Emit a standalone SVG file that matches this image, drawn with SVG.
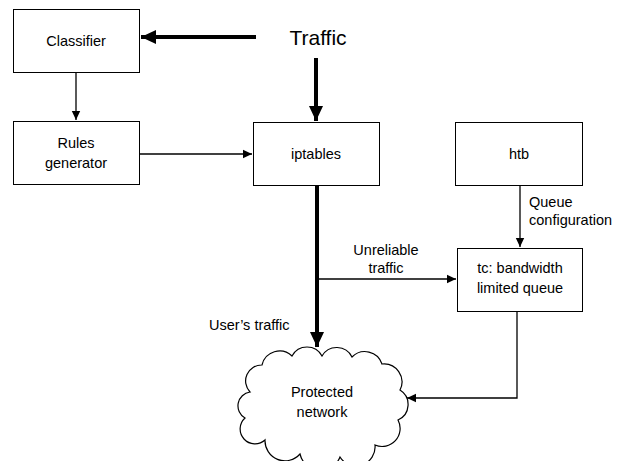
<svg xmlns="http://www.w3.org/2000/svg" width="632" height="461" viewBox="0 0 632 461">
<defs>
<style>
.box{fill:#fff;stroke:#000;stroke-width:1}
.t{font-family:"Liberation Sans",Arial,sans-serif;font-size:14.5px;fill:#000;text-anchor:middle}
.l{font-family:"Liberation Sans",Arial,sans-serif;font-size:14.5px;fill:#000}
.thin{stroke:#000;stroke-width:1.3;fill:none}
.thick{stroke:#000;stroke-width:4;fill:none}
</style>
<marker id="ah" markerUnits="userSpaceOnUse" markerWidth="10" markerHeight="10" refX="9" refY="5" orient="auto">
<path d="M0,0.8 L9,5 L0,9.2 Z" fill="#000"/>
</marker>
<marker id="ahb" markerUnits="userSpaceOnUse" markerWidth="16" markerHeight="16" refX="15" refY="8" orient="auto">
<path d="M0,1 L15,8 L0,15 Z" fill="#000"/>
</marker>
</defs>
<g id="connectors">
<line class="thick" x1="256" y1="37" x2="141" y2="37" marker-end="url(#ahb)"/>
<line class="thick" x1="316" y1="58" x2="316" y2="121" marker-end="url(#ahb)"/>
<line class="thin" x1="76" y1="73" x2="76" y2="120" marker-end="url(#ah)"/>
<line class="thin" x1="140" y1="154" x2="252" y2="154" marker-end="url(#ah)"/>
<line class="thick" x1="317" y1="185" x2="317" y2="347" marker-end="url(#ahb)"/>
<line class="thin" x1="317" y1="279" x2="456" y2="279" marker-end="url(#ah)"/>
<line class="thin" x1="520" y1="185" x2="520" y2="247" marker-end="url(#ah)"/>
<polyline class="thin" points="517,311 517,398 407,398" marker-end="url(#ah)"/>
</g>
<g id="traffic"><text class="t" x="318" y="45" style="font-size:21px">Traffic</text></g>
<g id="classifier"><rect class="box" x="13.5" y="9.5" width="126" height="63"/><text class="t" x="76" y="46">Classifier</text></g>
<g id="rules"><rect class="box" x="13.5" y="121.5" width="126" height="63"/><text class="t" x="76" y="148">Rules</text><text class="t" x="76" y="168">generator</text></g>
<g id="iptables"><rect class="box" x="253.5" y="122.5" width="126" height="63"/><text class="t" x="316" y="159">iptables</text></g>
<g id="htb"><rect class="box" x="455.5" y="122.5" width="127" height="63"/><text class="t" x="519" y="159">htb</text></g>
<g id="tc"><rect class="box" x="457.5" y="248.5" width="125" height="63"/><text class="t" x="520" y="273">tc: bandwidth</text><text class="t" x="520" y="293">limited queue</text></g>
<g id="cloud"><path fill="#fff" stroke="#000" stroke-width="1.2" d="M250,392 A16,16 0 0 1 262,365 A18,18 0 0 1 292,356 A17,17 0 0 1 322,356 A17,17 0 0 1 352,357 A18,18 0 0 1 382,364 A18,18 0 0 1 400,390 A17,17 0 0 1 398,420 A18,18 0 0 1 375,445 A19,19 0 0 1 340,457 A21,21 0 0 1 300,454 A20,20 0 0 1 265,440 A14,14 0 0 1 245,418 A14,14 0 0 1 250,392 Z"/><text class="t" x="322" y="397">Protected</text><text class="t" x="322" y="417">network</text></g>
<g id="labels">
<text class="l" x="529" y="207">Queue</text>
<text class="l" x="529" y="225">configuration</text>
<text class="t" x="386" y="255">Unreliable</text>
<text class="t" x="386" y="273">traffic</text>
<text class="l" x="209" y="330">User’s traffic</text>
</g>
</svg>
